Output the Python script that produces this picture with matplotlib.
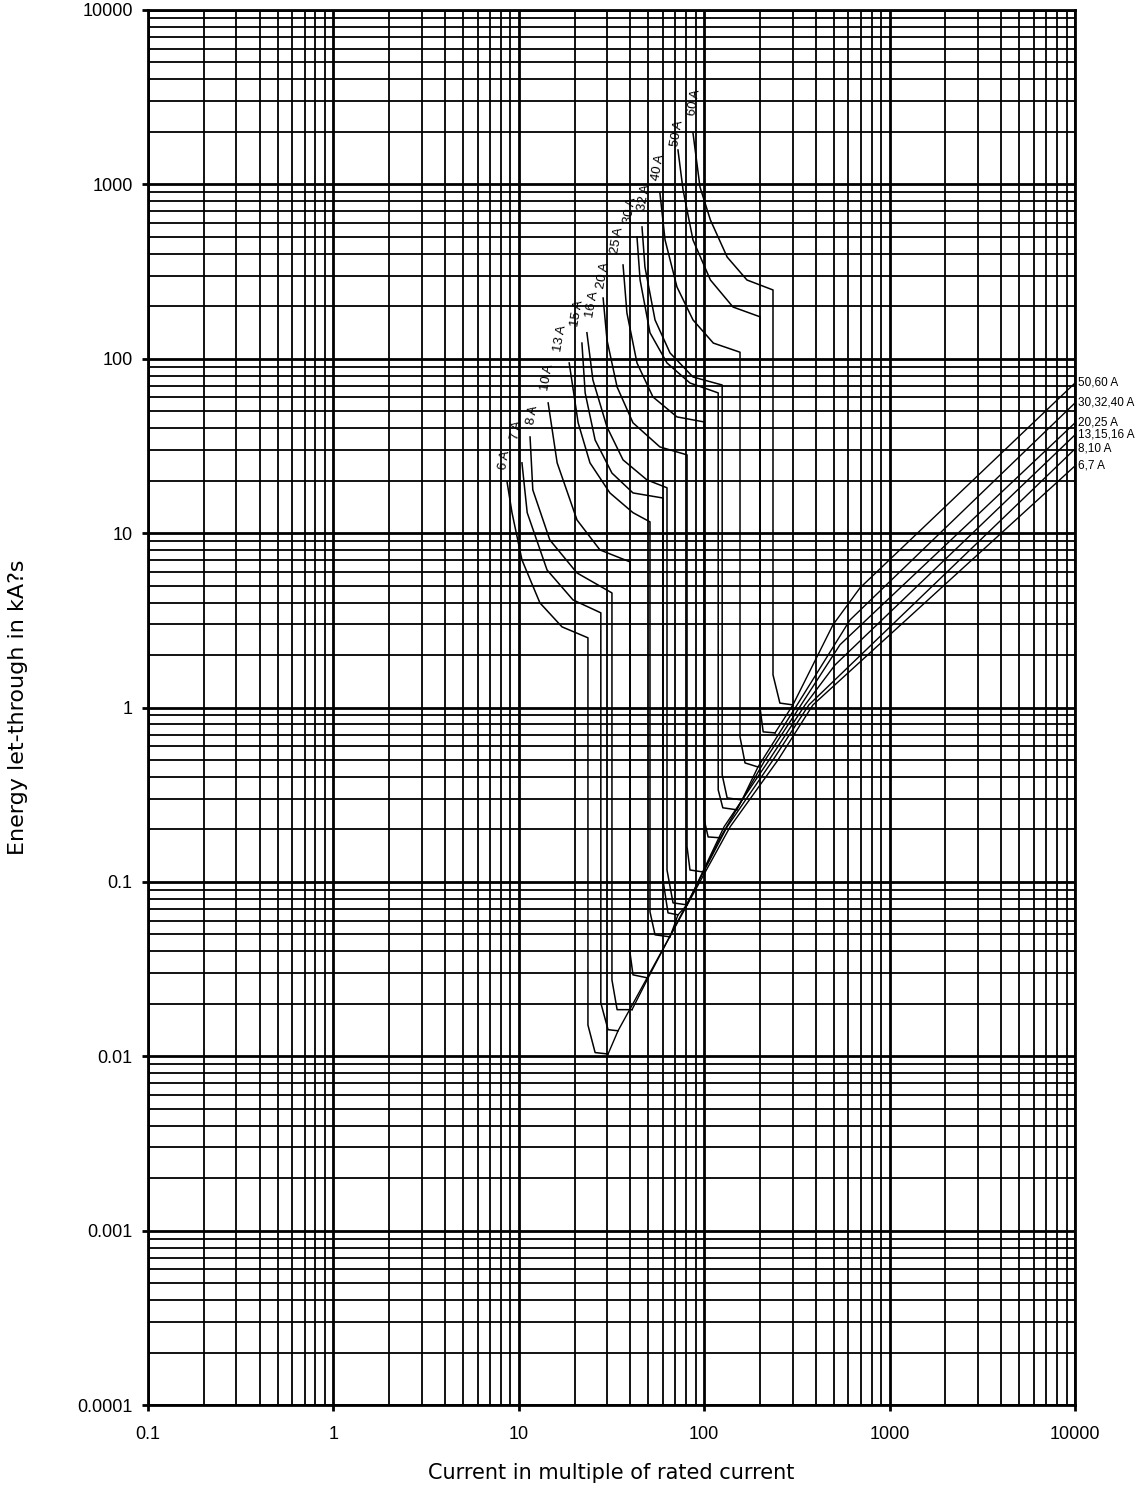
import matplotlib
matplotlib.use('Agg')
import matplotlib.pyplot as plt
from matplotlib import ticker

plt.rcParams['font.family'] = ['Liberation Sans', 'DejaVu Sans']

# axis ticks
x_ticks = [0.1, 1, 10, 100, 1000, 10000]
x_labels = ['0.1', '1', '10', '100', '1000', '10000']
y_ticks = [0.0001, 0.001, 0.01, 0.1, 1, 10, 100, 1000, 10000]
y_labels = ['0.0001', '0.001', '0.01', '0.1', '1', '10', '100', '1000', '10000']

# rated current of each fuse curve
ratings = ['6 A', '7 A', '8 A', '10 A', '13 A', '15 A', '16 A',
           '20 A', '25 A', '30 A', '32 A', '40 A', '50 A', '60 A']

# upper (pre-arcing) part of each curve, top point down to the knee
curve_x = [
    [8.64, 9.19, 10.4, 13.0, 17.1, 23.6],
    [10.4, 11.1, 14.2, 19.6, 27.7],
    [11.5, 11.9, 14.7, 20.6, 31.8],
    [14.4, 16.1, 20.6, 27.4, 39.8],
    [18.7, 20.9, 24.2, 31.0, 41.3, 51.0],
    [21.9, 22.8, 25.8, 31.8, 41.3, 59.9],
    [23.3, 25.1, 29.9, 36.5, 49.1, 63.0],
    [28.5, 29.9, 33.9, 41.3, 57.7, 80.8],
    [36.5, 38.3, 43.4, 52.9, 71.3, 100],
    [43.4, 45.1, 51.0, 63.0, 83.8, 119],
    [46.2, 47.9, 54.3, 65.4, 87.0, 125],
    [57.7, 61.5, 71.3, 87.0, 112, 156],
    [72.2, 76.9, 87.0, 108, 143, 200],
    [87.0, 94.9, 108, 133, 170, 235],
]
curve_y = [
    [19.7, 13.1, 7.02, 3.98, 2.90, 2.51],
    [25.3, 13.1, 6.15, 4.14, 3.49],
    [35.6, 17.7, 9.14, 5.91, 4.54],
    [55.8, 25.3, 11.9, 8.01, 6.84],
    [94.6, 42.9, 25.3, 17.0, 13.1, 11.6],
    [123, 63.7, 34.2, 22.1, 17.0, 15.9],
    [141, 75.6, 40.6, 26.3, 20.2, 18.2],
    [223, 128, 68.9, 42.9, 31.2, 28.1],
    [345, 183, 94.6, 60.4, 46.4, 43.4],
    [499, 283, 141, 94.6, 72.6, 63.7],
    [570, 336, 167, 108, 78.6, 70.7],
    [892, 480, 258, 167, 123, 109],
    [1575, 929, 480, 283, 198, 174],
    [1971, 966, 625, 383, 283, 248],
]
# bottom of the vertical drop
drop_y = [0.0151, 0.0202, 0.0274, 0.0392, 0.0673, 0.103, 0.117,
          0.159, 0.227, 0.337, 0.411, 0.678, 1.0, 1.54]
# short slanted bit after the drop
slant_x = [25.8, 30.3, 33.9, 41.3, 54.3, 63.8, 67.9, 83.8, 105, 126, 133, 166, 208, 256]
slant_y = [0.0105, 0.0142, 0.0185, 0.0293, 0.0497, 0.0664, 0.0758,
           0.117, 0.181, 0.266, 0.303, 0.481, 0.725, 1.06]
# foot, where the curve meets the let-through line
foot_x = [30.3, 34.3, 40.8, 49.8, 65.4, 72.2, 80.8, 98.5, 122, 150, 160, 195, 241, 301]
foot_y = [0.0103, 0.0140, 0.0185, 0.0281, 0.0484, 0.0647, 0.0738,
          0.114, 0.179, 0.259, 0.295, 0.456, 0.715, 1.035]

# total let-through lines
groups = ['6,7 A', '8,10 A', '13,15,16 A', '20,25 A', '30,32,40 A', '50,60 A']
group_x = [
    [30.3, 34.3, 138, 250, 386, 10000],
    [40.8, 49.8, 133, 235, 367, 10000],
    [65.4, 72.2, 80.8, 128, 224, 350, 508, 10000],
    [98.5, 122, 213, 333, 540, 10000],
    [150, 160, 195, 317, 612, 10000],
    [241, 301, 495, 692, 10000],
]
group_y = [
    [0.0103, 0.0140, 0.207, 0.50, 1.035, 24.3],
    [0.0185, 0.0281, 0.207, 0.50, 1.035, 30.4],
    [0.0484, 0.0647, 0.0738, 0.207, 0.50, 1.035, 1.755, 36.6],
    [0.114, 0.179, 0.50, 1.035, 2.29, 42.9],
    [0.259, 0.295, 0.456, 1.035, 3.18, 55.8],
    [0.715, 1.035, 2.98, 4.85, 72.6],
]

# where each rating label sits relative to the top of its curve (points)
label_off = [(-1.4, 15.8), (-3.6, 23.8), (2.2, 15.8), (-0.7, 18.7), (-6.5, 18),
             (-3.6, 21.6), (3.6, 20.2), (0, 16.6), (-4.3, 18), (-5, 19.4),
             (1.4, 21.6), (-1.4, 18.7), (-0.7, 12.2), (0.7, 22.3)]

W, H = 1140, 1489
fig = plt.figure(figsize=(W / 100, H / 100), dpi=100)
ax = fig.add_axes([148 / W, 1 - 1405 / H, (1075 - 148) / W, (1405 - 10) / H])
ax.set_xscale('log')
ax.set_yscale('log')
ax.set_xlim(0.1, 10000)
ax.set_ylim(0.0001, 10000)

ax.set_xticks(x_ticks, x_labels)
ax.set_yticks(y_ticks, y_labels)
for a in (ax.xaxis, ax.yaxis):
    a.set_minor_locator(ticker.LogLocator(base=10, subs=range(2, 10), numticks=200))
    a.set_minor_formatter(ticker.NullFormatter())

ax.grid(which='major', color='black', lw=2.0)
ax.grid(which='minor', color='black', lw=1.3)
ax.tick_params(which='major', direction='out', length=4, width=2, labelsize=13, pad=7)
ax.tick_params(axis='x', which='major', pad=11)
ax.tick_params(which='minor', length=0)
for s in ax.spines.values():
    s.set_linewidth(2)

# fuse curves
for i, name in enumerate(ratings):
    xs = curve_x[i] + [curve_x[i][-1], slant_x[i], foot_x[i]]
    ys = curve_y[i] + [drop_y[i], slant_y[i], foot_y[i]]
    ax.plot(xs, ys, color='black', lw=1.1)
    ax.annotate(name, xy=(curve_x[i][0], curve_y[i][0]), xytext=label_off[i],
                textcoords='offset points', rotation=80, ha='center', va='center',
                fontsize=9.5)

# let-through lines
for i, name in enumerate(groups):
    ax.plot(group_x[i], group_y[i], color='black', lw=1.0)
    ax.annotate(name, xy=(group_x[i][-1], group_y[i][-1]), xytext=(2, 0),
                textcoords='offset points', ha='left', va='center',
                fontsize=8.5, annotation_clip=False)

fig.text(611 / W, 1 - 1473 / H, 'Current in multiple of rated current',
         ha='center', va='center', fontsize=15, family='DejaVu Sans')
fig.text(18 / W, 1 - 707 / H, 'Energy let-through in kA?s', rotation=90,
         ha='center', va='center', fontsize=16, family='DejaVu Sans')

fig.savefig('out.png', dpi=100)
